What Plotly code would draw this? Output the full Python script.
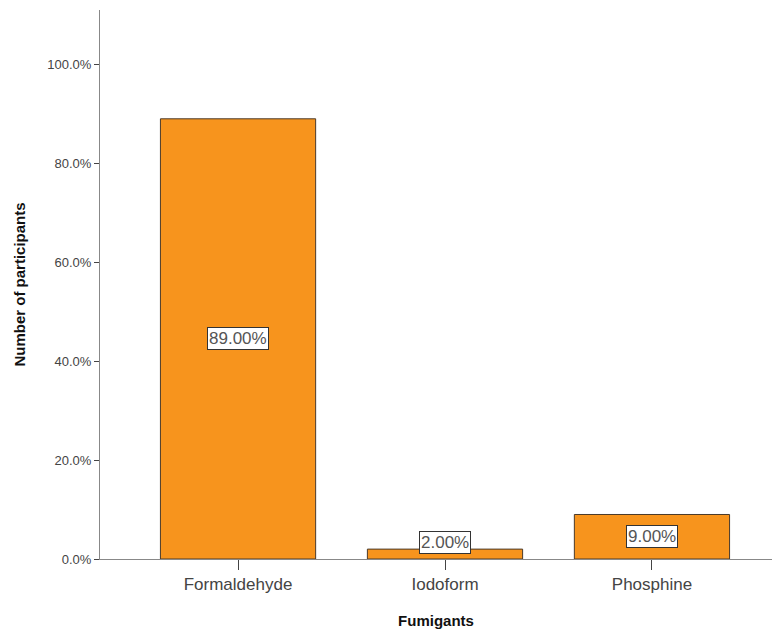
import plotly.graph_objects as go

categories = ["Formaldehyde", "Iodoform", "Phosphine"]
percent_values = [89.0, 2.0, 9.0]
y_tick_values = [0, 20, 40, 60, 80, 100]
y_tick_labels = ["0.0%", "20.0%", "40.0%", "60.0%", "80.0%", "100.0%"]

fig = go.Figure()
fig.add_trace(go.Bar(
    x=categories, y=percent_values,
    marker=dict(color="#F7941D", line=dict(color="#4a3a2a", width=1)),
    width=0.75,
))

for c, v in zip(categories, percent_values):
    fig.add_annotation(
        x=c, y=max(v / 2, 3.3), text=f"{v:.2f}%", showarrow=False,
        font=dict(family="Liberation Sans, Arial", size=17, color="#555555"),
        bgcolor="white", bordercolor="#333333", borderwidth=1, borderpad=1,
    )

fig.update_layout(
    width=780, height=633,
    margin=dict(l=92, r=16, t=2, b=82),
    paper_bgcolor="white", plot_bgcolor="white",
    showlegend=False,
    font=dict(family="Liberation Sans, Arial", color="#333333"),
    bargap=0.25,
)
fig.update_xaxes(
    range=[-0.667, 2.58],
    showline=True, linecolor="#888888", linewidth=1,
    ticks="outside", ticklen=10, tickcolor="#444444",
    tickfont=dict(size=17, color="#444444"),
    title=dict(text="<b>Fumigants</b>", font=dict(size=15, color="#111111"), standoff=22),
    showgrid=False, zeroline=False,
)
fig.update_yaxes(
    range=[0, 111],
    tickvals=y_tick_values, ticktext=y_tick_labels,
    showline=True, linecolor="#888888", linewidth=1,
    ticks="outside", ticklen=5, tickcolor="#444444",
    tickfont=dict(size=13, color="#444444"),
    title=dict(text="<b>Number of participants</b>", font=dict(size=15, color="#111111"), standoff=18),
    showgrid=False, zeroline=False,
)

fig.write_html("out.html")
